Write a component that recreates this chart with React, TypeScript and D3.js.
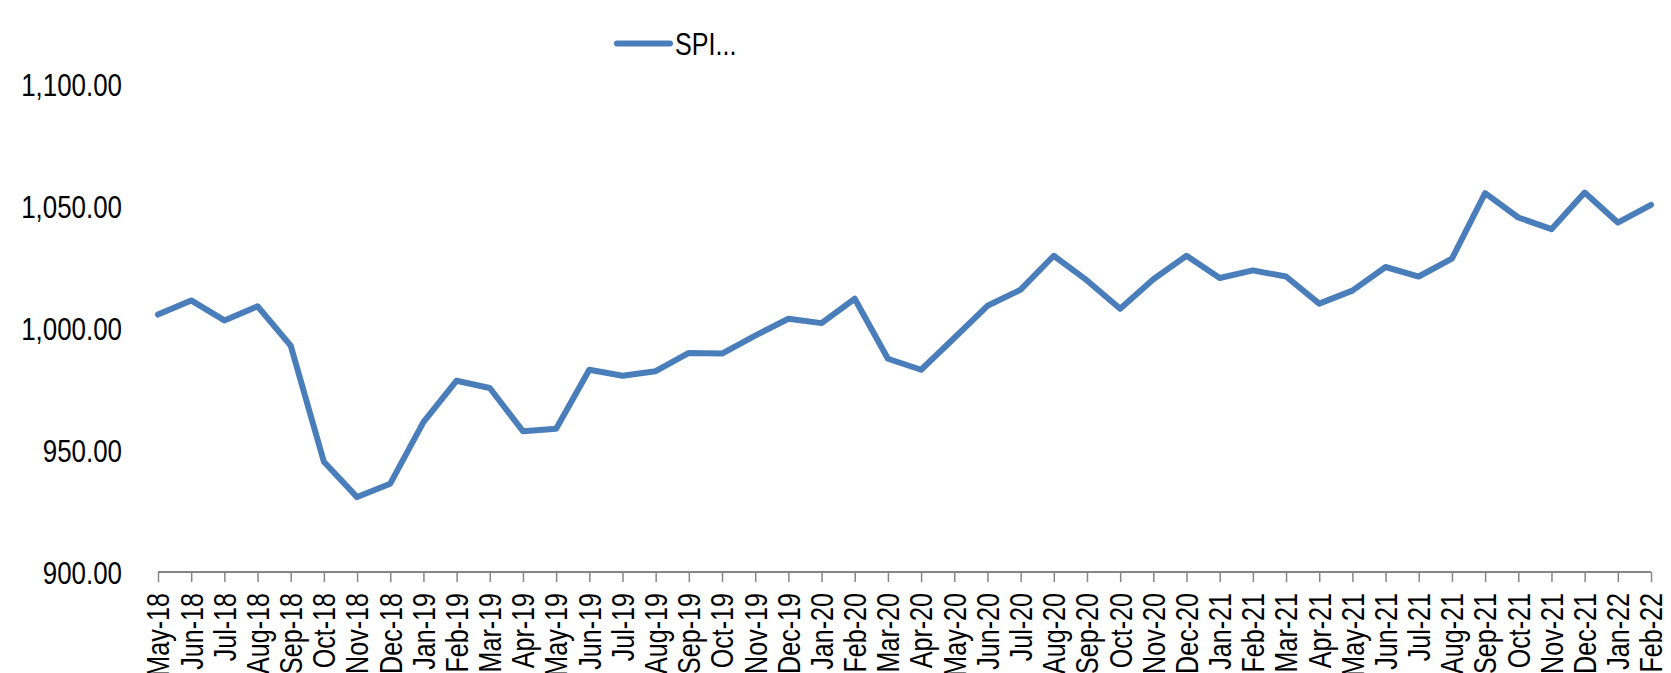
import React, { useEffect, useRef } from 'react';
import * as d3 from 'd3';

// dimensiones del lienzo
const W = 1671;
const H = 673;
const margin = { top: 84, right: 20, bottom: 101, left: 158 };

// datos
const months = [
  'May-18', 'Jun-18', 'Jul-18', 'Aug-18', 'Sep-18', 'Oct-18', 'Nov-18', 'Dec-18',
  'Jan-19', 'Feb-19', 'Mar-19', 'Apr-19', 'May-19', 'Jun-19', 'Jul-19', 'Aug-19',
  'Sep-19', 'Oct-19', 'Nov-19', 'Dec-19', 'Jan-20', 'Feb-20', 'Mar-20', 'Apr-20',
  'May-20', 'Jun-20', 'Jul-20', 'Aug-20', 'Sep-20', 'Oct-20', 'Nov-20', 'Dec-20',
  'Jan-21', 'Feb-21', 'Mar-21', 'Apr-21', 'May-21', 'Jun-21', 'Jul-21', 'Aug-21',
  'Sep-21', 'Oct-21', 'Nov-21', 'Dec-21', 'Jan-22', 'Feb-22'
];
const spi = [
  1005.5, 1011.3, 1003.1, 1008.9, 992.8, 945.2, 930.7, 936.2,
  961.4, 978.4, 975.4, 957.7, 958.7, 982.9, 980.4, 982.3,
  989.8, 989.5, 996.9, 1003.8, 1002.0, 1012.0, 987.4, 982.9,
  995.9, 1009.1, 1015.7, 1029.6, 1019.5, 1007.9, 1020.0, 1029.6,
  1020.5, 1023.6, 1021.1, 1010.0, 1015.3, 1025.0, 1021.1, 1028.4,
  1055.3, 1045.3, 1040.5, 1055.5, 1043.2, 1050.5
];
const yTicks = [900, 950, 1000, 1050, 1100];
const seriesName = 'SPI...';

// no hay fuente estrecha instalada: se comprime en horizontal
const FONT = '"Liberation Sans", Arial, sans-serif';
const NARROW = 0.81;
const BLUE = '#4a7ebb';

const App = () => {
  const svgRef = useRef<SVGSVGElement | null>(null);

  useEffect(() => {
    const svg = d3.select(svgRef.current);
    svg.selectAll('*').remove();

    const x = d3.scalePoint<string>()
      .domain(months)
      .range([margin.left, 1651]);

    const y = d3.scaleLinear()
      .domain([900, 1100])
      .range([H - margin.bottom, margin.top]);

    // eje Y (solo etiquetas)
    svg.append('g')
      .selectAll('text')
      .data(yTicks)
      .join('text')
      .attr('transform', d => `translate(122,${y(d)}) scale(${NARROW},1)`)
      .attr('dy', '0.36em')
      .attr('text-anchor', 'end')
      .style('font-family', FONT)
      .style('font-size', '32px')
      .style('fill', '#000')
      .text(d => d3.format(',.2f')(d));

    // eje X
    const gx = svg.append('g')
      .attr('transform', `translate(0,${y(900)})`)
      .call(d3.axisBottom(x).tickSize(10).tickSizeOuter(0).tickPadding(11));

    gx.select('.domain')
      .attr('stroke', '#868686')
      .attr('stroke-width', 2)
      .attr('d', `M${margin.left},0H${x(months[months.length - 1])}`);
    gx.selectAll('.tick line')
      .attr('stroke', '#868686')
      .attr('stroke-width', 1.5);
    gx.selectAll('.tick text')
      .attr('transform', `rotate(-90) scale(${NARROW},1)`)
      .attr('x', -21 / NARROW)
      .attr('y', 0)
      .attr('dy', '0.35em')
      .attr('text-anchor', 'end')
      .style('font-family', FONT)
      .style('font-size', '31px')
      .style('fill', '#000');

    // línea
    const line = d3.line<number>()
      .x((_, i) => x(months[i]) as number)
      .y(d => y(d));

    svg.append('path')
      .datum(spi)
      .attr('d', line)
      .attr('fill', 'none')
      .attr('stroke', BLUE)
      .attr('stroke-width', 6)
      .attr('stroke-linejoin', 'round')
      .attr('stroke-linecap', 'round');

    // leyenda
    const lg = svg.append('g').attr('transform', 'translate(617,43.5)');
    lg.append('line')
      .attr('x1', 0).attr('x2', 53)
      .attr('stroke', BLUE)
      .attr('stroke-width', 6)
      .attr('stroke-linecap', 'round');
    lg.append('text')
      .attr('transform', `translate(58,0) scale(${NARROW},1)`)
      .attr('dy', '0.36em')
      .style('font-family', FONT)
      .style('font-size', '31px')
      .style('fill', '#000')
      .text(seriesName);
  }, []);

  return (
    <svg
      ref={svgRef}
      width={W}
      height={H}
      style={{ position: 'absolute', left: 0, top: 0, background: '#fff' }}
    />
  );
};

export default App;
